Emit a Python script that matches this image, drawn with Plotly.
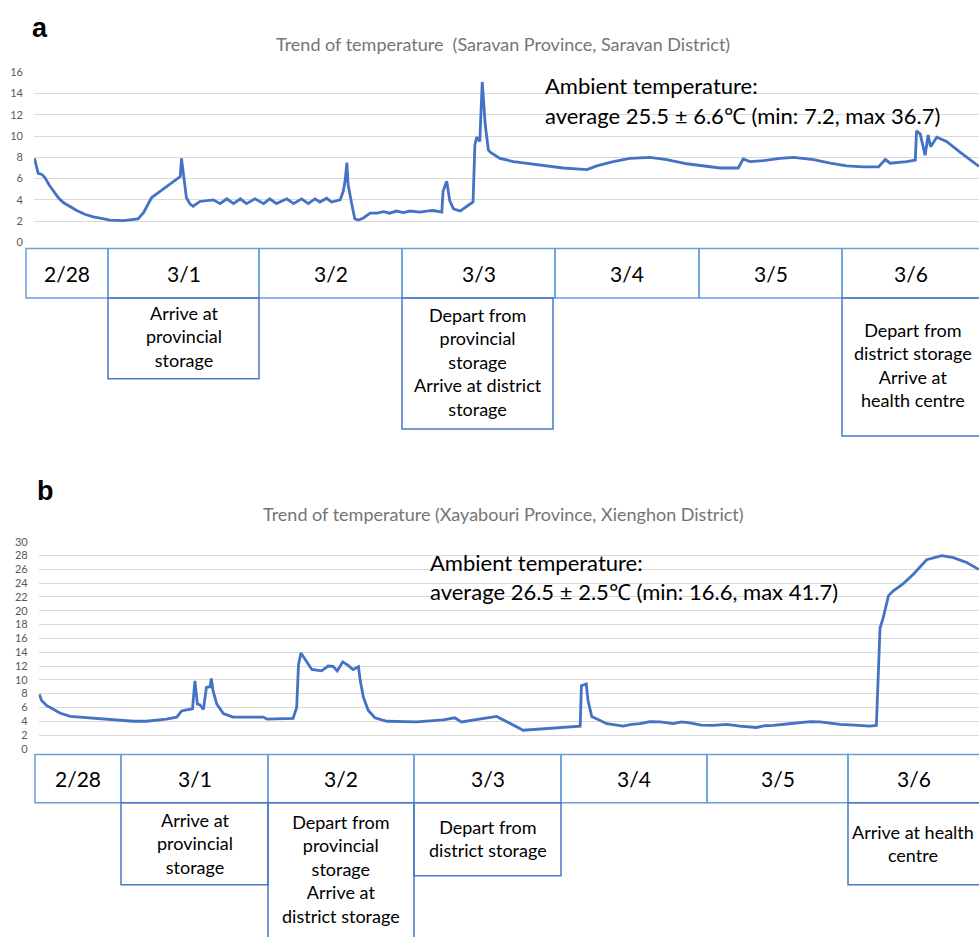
import plotly.graph_objects as go

W, H = 979, 937

# ---------------- data ----------------
# hours since 2/28 00:00 and temperature (°C)
a_hours = [12.0, 12.6, 13.2, 13.7, 14.4, 15.1, 15.9, 16.7, 17.8, 18.9, 20.2, 21.6, 22.9, 24.3,
           26.5, 28.9, 29.8, 30.6, 31.1, 32.5, 34.1, 35.8, 36.0, 36.3, 36.8, 37.4, 37.9, 39.0,
           41.2, 42.3, 43.4, 44.5, 45.6, 46.6, 48.0, 49.4, 50.4, 51.5, 53.2, 54.3, 55.6, 56.7,
           57.8, 58.6, 59.7, 60.5, 61.9, 62.4, 62.7, 63.0, 63.2, 63.8, 64.3, 64.9, 65.7, 66.8,
           67.9, 69.0, 70.0, 71.1, 72.2, 73.3, 74.9, 76.0, 77.1, 78.5, 78.7, 79.3, 79.8, 80.4,
           81.5, 82.6, 83.6, 83.9, 84.2, 84.7, 85.1, 85.6, 86.1, 86.4, 87.5, 88.0, 90.2, 92.9,
           95.6, 98.3, 102.2, 103.8, 106.5, 109.2, 112.5, 115.2, 118.5, 121.7, 123.9, 126.9,
           127.7, 128.8, 131.0, 133.7, 135.9, 139.2, 141.9, 144.6, 147.3, 149.8, 150.9, 151.7,
           154.4, 155.8, 156.0, 156.6, 157.4, 157.9, 158.3, 159.3, 160.9, 163.1, 166.2]
a_temp = [7.9, 6.5, 6.4, 6.1, 5.4, 4.8, 4.2, 3.75, 3.35, 3.0, 2.65, 2.4, 2.25, 2.1,
          2.05, 2.2, 2.8, 3.6, 4.2, 4.8, 5.5, 6.2, 7.9, 6.6, 4.2, 3.6, 3.4, 3.85,
          4.0, 3.65, 4.1, 3.65, 4.1, 3.65, 4.1, 3.65, 4.1, 3.65, 4.1, 3.65, 4.1, 3.65,
          4.1, 3.8, 4.15, 3.8, 4.0, 4.8, 5.75, 7.5, 5.45, 3.6, 2.2, 2.1, 2.3, 2.75,
          2.75, 2.9, 2.75, 2.95, 2.8, 2.95, 2.85, 2.95, 3.0, 2.85, 4.8, 5.75, 3.9, 3.15,
          2.95, 3.4, 3.8, 9.2, 9.9, 9.5, 15.1, 11.0, 8.7, 8.5, 8.1, 7.9, 7.6, 7.4,
          7.2, 7.0, 6.85, 7.2, 7.6, 7.9, 8.0, 7.8, 7.4, 7.15, 7.0, 7.0,
          7.85, 7.6, 7.7, 7.9, 8.0, 7.8, 7.45, 7.2, 7.1, 7.1, 7.8, 7.45,
          7.6, 7.75, 10.5, 10.2, 8.2, 10.1, 9.0, 9.9, 9.5, 8.5, 7.15]

b_hours = [10.5, 10.9, 11.7, 12.8, 13.9, 15.6, 18.3, 22.2, 26.0, 28.2, 31.5, 33.2, 34.0, 34.8,
           35.8, 36.2, 36.6, 37.0, 37.6, 38.1, 38.7, 38.9, 39.2, 39.8, 40.9, 42.5, 45.8, 47.5,
           48.1, 52.4, 53.0, 53.3, 53.7, 54.4, 55.5, 57.1, 58.2, 59.0, 59.7, 60.6, 61.5, 62.3,
           63.2, 63.5, 64.0, 64.8, 65.9, 67.9, 72.8, 77.2, 79.1, 80.2, 82.7, 86.0, 90.4, 94.3,
           99.8, 100.0, 100.8, 101.1, 101.7, 104.2, 105.5, 106.9, 108.3, 109.7, 111.3, 113.0,
           115.2, 116.5, 117.9, 119.8, 121.8, 124.0, 126.2, 128.9, 130.3, 131.7, 133.9, 136.1,
           137.8, 139.4, 141.0, 142.7, 145.1, 147.6, 148.7, 149.0, 149.3, 149.8, 150.7,
           151.5, 153.1, 154.8, 157.0, 159.5, 161.4, 163.6, 165.6]
b_temp = [7.9, 7.0, 6.3, 5.8, 5.2, 4.7, 4.5, 4.3, 4.0, 4.0, 4.3, 4.6, 5.5, 5.65,
          5.8, 9.85, 6.5, 6.4, 5.7, 8.9, 9.0, 10.2, 8.4, 6.5, 5.1, 4.6, 4.6, 4.6,
          4.3, 4.4, 6.0, 12.2, 13.9, 12.9, 11.5, 11.3, 12.0, 11.95, 11.3, 12.6, 12.1, 11.5,
          11.9, 9.85, 7.5, 5.6, 4.5, 4.0, 3.9, 4.2, 4.5, 3.9, 4.2, 4.7, 2.7, 2.95,
          3.3, 9.15, 9.4, 7.0, 4.7, 3.65, 3.5, 3.3, 3.55, 3.65, 3.95, 3.9,
          3.65, 3.9, 3.75, 3.45, 3.4, 3.55, 3.3, 3.1, 3.35, 3.4, 3.6, 3.75,
          3.95, 3.9, 3.7, 3.55, 3.45, 3.3, 3.4, 10.8, 17.5, 18.9, 22.2,
          22.9, 23.9, 25.3, 27.4, 28.0, 27.7, 27.0, 26.0]

dates = ["2/28", "3/1", "3/2", "3/3", "3/4", "3/5", "3/6"]
a_ticks = [0, 2, 4, 6, 8, 10, 12, 14, 16]
b_ticks = list(range(0, 31, 2))

a_title = "Trend of temperature  (Saravan Province, Saravan District)"
b_title = "Trend of temperature (Xayabouri Province, Xienghon District)"
a_note = ["Ambient temperature:", "average 25.5 ± 6.6℃ (min: 7.2, max 36.7)"]
b_note = ["Ambient temperature:", "average 26.5 ± 2.5℃ (min: 16.6, max 41.7)"]

a_events = {"3/1": "Arrive at<br>provincial<br>storage",
            "3/3": "Depart from<br>provincial<br>storage<br>Arrive at district<br>storage",
            "3/6": "Depart from<br>district storage<br>Arrive at<br>health centre"}
b_events = {"3/1": "Arrive at<br>provincial<br>storage",
            "3/2": "Depart from<br>provincial<br>storage<br>Arrive at<br>district storage",
            "3/3": "Depart from<br>district storage",
            "3/6": "Arrive at health<br>centre"}

# ---------------- layout geometry (pixels) ----------------
def X(px):
    return px / W

def Y(py):
    return 1 - py / H

FONT = "Lato, 'Open Sans', sans-serif"
LINE = "#4472C4"
DATE_BORDER = "#6A9FDB"
EVENT_BORDER = "#4A78C8"

panels = [
    dict(xdom=(34, 979), ydom=(238.7, 66.3), xr=(11.92, 166.2), yr=(0, 16), ticks=a_ticks,
         hours=a_hours, temp=a_temp, title=a_title, title_y=38, label="a", label_xy=(40, 21),
         note=a_note, note_x=543, note_y=(80, 110),
         cols=[26, 108, 259, 402, 555, 699, 842, 980], row=(245, 295),
         events=a_events,
         ev_geom={"3/1": (108, 259, 377, 334), "3/3": (402, 553, 428, 360),
                  "3/6": (842, 980, 435, 363)}),
    dict(xdom=(38.7, 979), ydom=(752.3, 542.3), xr=(10.41, 165.64), yr=(0, 30), ticks=b_ticks,
         hours=b_hours, temp=b_temp, title=b_title, title_y=514, label="b", label_xy=(45, 491),
         note=b_note, note_x=428, note_y=(563, 593),
         cols=[35, 121, 268, 414, 561, 707, 848, 980], row=(758, 807),
         events=b_events,
         ev_geom={"3/1": (121, 268, 890, 848), "3/2": (268, 414, 945, 874),
                  "3/3": (414, 561, 881, 843), "3/6": (848, 980, 890, 848)}),
]

fig = go.Figure()
shapes, annotations = [], []

for i, p in enumerate(panels):
    n = "" if i == 0 else str(i + 1)
    fig.add_trace(go.Scatter(x=p["hours"], y=p["temp"], mode="lines",
                             line=dict(color=LINE, width=2.8), xaxis="x" + n, yaxis="y" + n,
                             showlegend=False, hoverinfo="skip"))
    fig.update_layout(**{
        "xaxis" + n: dict(domain=[X(p["xdom"][0]), X(p["xdom"][1])], range=list(p["xr"]),
                          visible=False, anchor="y" + n),
        "yaxis" + n: dict(domain=[Y(p["ydom"][0]), Y(p["ydom"][1])], range=list(p["yr"]),
                          tickvals=p["ticks"], showgrid=True, gridcolor="#D9D9D9", gridwidth=1,
                          zeroline=False, showline=False, ticks="", ticklabelstandoff=10,
                          tickfont=dict(family=FONT, size=11, color="#595959"),
                          anchor="x" + n),
    })
    annotations.append(dict(x=X(503), y=Y(p["title_y"]), xref="paper", yref="paper",
                            text=p["title"], showarrow=False, xanchor="center", yanchor="middle",
                            font=dict(family=FONT, size=18, color="#757575")))
    annotations.append(dict(x=X(p["label_xy"][0]), y=Y(p["label_xy"][1]), xref="paper",
                            yref="paper", text="<b>%s</b>" % p["label"], showarrow=False,
                            xanchor="center", yanchor="middle",
                            font=dict(family="Liberation Sans, Arial, sans-serif", size=27,
                                      color="black")))
    for line_txt, ly in zip(p["note"], p["note_y"]):
        annotations.append(dict(x=X(p["note_x"]), y=Y(ly), xref="paper", yref="paper",
                                text=line_txt, showarrow=False, xanchor="left",
                                yanchor="middle",
                                font=dict(family=FONT, size=22, color="black")))
    cols = p["cols"]
    r0, r1 = p["row"]
    for k, d in enumerate(dates):
        x0, x1 = cols[k], cols[k + 1]
        shapes.append(dict(type="rect", xref="paper", yref="paper", x0=X(x0), x1=X(x1),
                           y0=Y(r1), y1=Y(r0), line=dict(color=DATE_BORDER, width=1.5)))
        annotations.append(dict(x=X((x0 + x1) / 2), y=Y((r0 + r1) / 2), xref="paper",
                                yref="paper", text=d, showarrow=False, xanchor="center",
                                yanchor="middle",
                                font=dict(family=FONT, size=21, color="black")))
    for d, txt in p["events"].items():
        x0, x1, bot, cy = p["ev_geom"][d]
        shapes.append(dict(type="rect", xref="paper", yref="paper", x0=X(x0), x1=X(x1),
                           y0=Y(bot), y1=Y(r1), line=dict(color=EVENT_BORDER, width=1.5)))
        annotations.append(dict(x=X((x0 + x1) / 2 if x1 < 979 else 913), y=Y(cy),
                                xref="paper", yref="paper", text=txt, showarrow=False,
                                xanchor="center", yanchor="middle", align="center",
                                font=dict(family=FONT, size=18, color="black")))

fig.update_layout(width=W, height=H, margin=dict(l=0, r=0, t=0, b=0),
                  paper_bgcolor="white", plot_bgcolor="white",
                  shapes=shapes, annotations=annotations)

fig.write_html("out.html", config={"displayModeBar": False},
               post_script="document.body.style.margin='0';"
                           "document.body.style.overflow='hidden';")
